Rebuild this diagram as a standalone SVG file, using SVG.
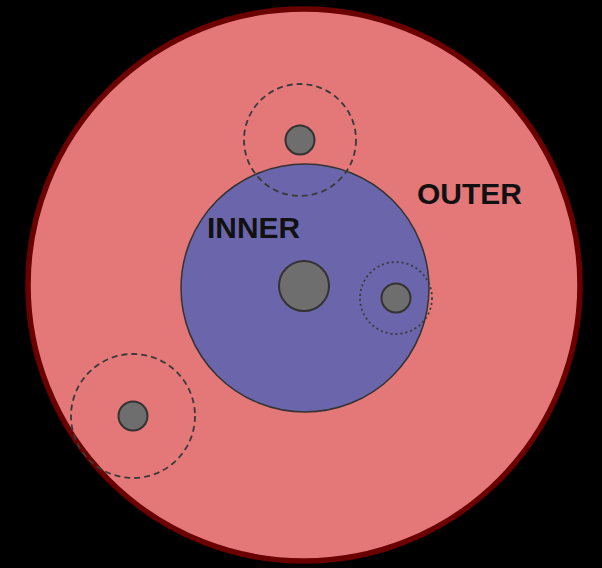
<svg xmlns="http://www.w3.org/2000/svg" width="602" height="568" viewBox="0 0 602 568">
<style>
.dot{fill:#6e6e6e;stroke:#333;stroke-width:2}
.orbit{fill:none;stroke:#3a3a3a;stroke-width:1.8}
.lbl{font-family:"Liberation Sans",Arial,sans-serif;font-weight:bold;font-size:29.5px;fill:#111}
</style>
<rect width="602" height="568" fill="#000"/>
<g id="outer">
<circle cx="304" cy="285" r="276" fill="#e47878" stroke="#6b0000" stroke-width="5.5"/>
<text class="lbl" x="417" y="204" textLength="105" lengthAdjust="spacingAndGlyphs">OUTER</text>
</g>
<g id="inner">
<circle cx="305" cy="288" r="124" fill="#6b66ab" stroke="#333" stroke-width="1.5"/>
<text class="lbl" x="207" y="238" textLength="93" lengthAdjust="spacingAndGlyphs">INNER</text>
</g>
<g id="center-dot"><circle class="dot" cx="304" cy="286" r="25"/></g>
<g id="top-moon">
<circle class="orbit" cx="300" cy="140" r="56" stroke-dasharray="6,4"/>
<circle class="dot" cx="300" cy="140" r="14.5"/>
</g>
<g id="right-moon">
<circle class="orbit" cx="396" cy="298" r="36" stroke-dasharray="2,3"/>
<circle class="dot" cx="396" cy="298" r="14.5"/>
</g>
<g id="left-moon">
<circle class="orbit" cx="133" cy="416" r="62" stroke-dasharray="6,4"/>
<circle class="dot" cx="133" cy="416" r="14.5"/>
</g>
<g id="connectors"/>
</svg>
